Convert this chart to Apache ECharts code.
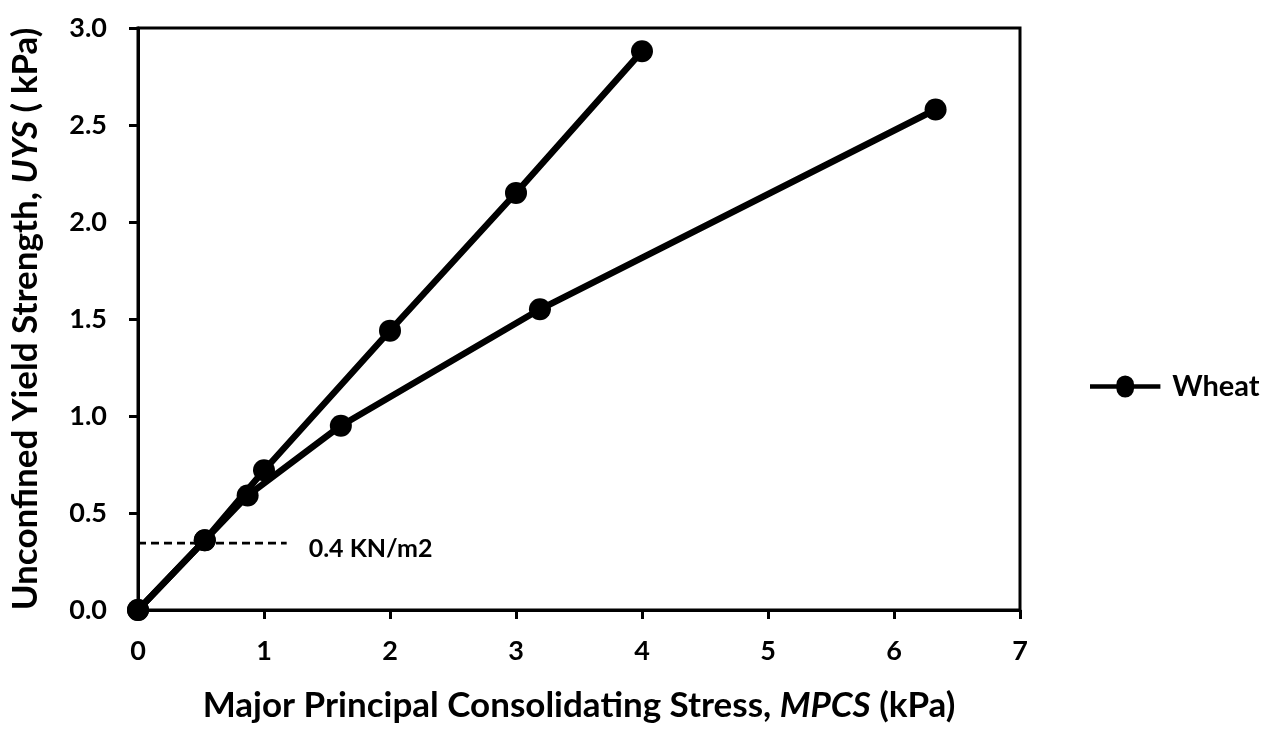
<!DOCTYPE html>
<html><head><meta charset="utf-8">
<script src="https://cdn.jsdelivr.net/npm/echarts@6/dist/echarts.min.js"></script>
<style>html,body{margin:0;padding:0;background:#fff}#c{width:1274px;height:739px}</style>
</head><body><div id="c"></div>
<script>
const seriesName = 'Wheat';
const steepX = [0, 0.53, 1.0, 2.0, 3.0, 4.0];
const steepY = [0, 0.36, 0.72, 1.44, 2.15, 2.88];
const shallowX = [0, 0.53, 0.87, 1.61, 3.19, 6.33];
const shallowY = [0, 0.36, 0.59, 0.95, 1.55, 2.58];
const refX = [0, 1.18];
const refY = [0.345, 0.345];
const refLabel = '0.4 KN/m2';
const xTicks = [0, 1, 2, 3, 4, 5, 6, 7];
const yTicks = [0, 0.5, 1.0, 1.5, 2.0, 2.5, 3.0];

const FONT = 'Lato';
const zip = (a, b) => a.map((v, i) => [v, b[i]]);
const chart = echarts.init(document.getElementById('c'));
const lineStyle = { color: '#000', width: 6.5 };
const titleRich = {
  n: { fontFamily: FONT, fontWeight: 'bold', fontSize: 35, color: '#000' },
  i: { fontFamily: FONT, fontWeight: 'bold', fontStyle: 'italic', fontSize: 35, color: '#000' }
};
chart.setOption({
  backgroundColor: '#fff',
  animation: false,
  textStyle: { fontFamily: FONT },
  grid: { left: 136, right: 254, top: 28, bottom: 129, show: true, borderColor: '#000', borderWidth: 3 },
  legend: {
    data: [{ name: seriesName, icon: 'path://M0,-2.5 L30,-2.5 A10,10 0 1 1 50,-2.5 L80,-2.5 L80,2.5 L50,2.5 A10,10 0 1 1 30,2.5 L0,2.5 Z' }],
    left: 1085, top: 367, itemWidth: 80, itemHeight: 22, itemGap: 4,
    textStyle: { fontFamily: FONT, fontWeight: 'bold', fontSize: 29, color: '#000', padding: [0, 0, 0, 2] }
  },
  xAxis: {
    type: 'value', min: xTicks[0], max: xTicks[xTicks.length - 1], interval: 1,
    name: '{n|Major Principal Consolidating Stress, }{i|MPCS}{n| (kPa)}',
    nameLocation: 'middle', nameGap: 78,
    nameTextStyle: { rich: titleRich },
    axisLine: { lineStyle: { color: '#000', width: 3 } },
    axisTick: { show: true, inside: false, length: 9, lineStyle: { color: '#000', width: 3 } },
    axisLabel: { margin: 28, fontFamily: FONT, fontWeight: 'bold', fontSize: 27, color: '#000' },
    splitLine: { show: false }
  },
  yAxis: {
    type: 'value', min: yTicks[0], max: yTicks[yTicks.length - 1], interval: 0.5,
    name: '{n|Unconfined Yield Strength, }{i|UYS}{n| ( kPa)}',
    nameLocation: 'middle', nameGap: 95, nameRotate: 90,
    nameTextStyle: { rich: titleRich },
    axisLine: { lineStyle: { color: '#000', width: 3 } },
    axisTick: { show: true, inside: false, length: 9, lineStyle: { color: '#000', width: 3 } },
    axisLabel: { margin: 31, fontFamily: FONT, fontWeight: 'bold', fontSize: 27, color: '#000', formatter: v => v.toFixed(1) },
    splitLine: { show: false }
  },
  series: [
    { name: seriesName, type: 'line', data: zip(steepX, steepY), symbol: 'circle', symbolSize: 22,
      itemStyle: { color: '#000' }, lineStyle: lineStyle, z: 3 },
    { name: seriesName, type: 'line', data: zip(shallowX, shallowY), symbol: 'circle', symbolSize: 22,
      itemStyle: { color: '#000' }, lineStyle: lineStyle, z: 3 },
    { name: 'ref', type: 'line', data: zip(refX, refY), symbol: 'none', silent: true,
      lineStyle: { color: '#000', width: 2.8, type: [8, 5] }, z: 2,
      endLabel: { show: true, formatter: refLabel, distance: 22, fontFamily: FONT, fontWeight: 'bold', fontSize: 25, color: '#000', offset: [0, 6] } }
  ]
});
</script></body></html>
